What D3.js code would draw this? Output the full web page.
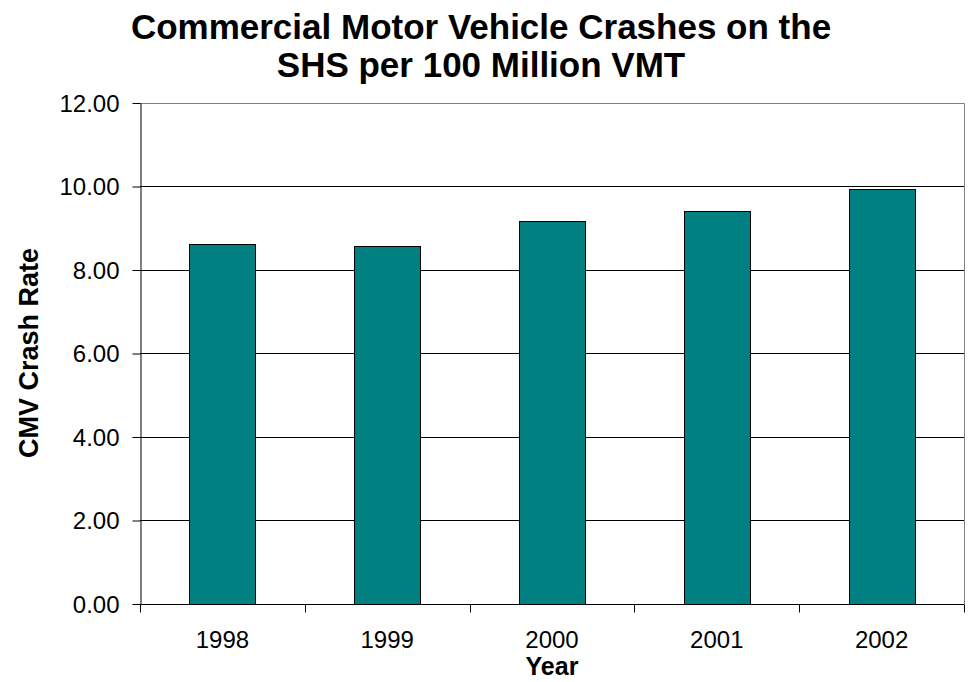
<!DOCTYPE html>
<html>
<head>
<meta charset="utf-8">
<script src="https://cdn.jsdelivr.net/npm/d3@7"></script>
<style>
  body { margin: 0; background: #fff; }
  text { font-family: Arial, "Liberation Sans", sans-serif; }
</style>
</head>
<body>
<div id="chart"></div>
<script>
var years = ["1998", "1999", "2000", "2001", "2002"];
var rates = [8.62, 8.56, 9.15, 9.40, 9.92];
var yTicks = [0, 2, 4, 6, 8, 10, 12];

var width = 972, height = 682;
var plotLeft = 140, plotRight = 964, plotTop = 102.5, plotBottom = 603.5;

var svg = d3.select("#chart").append("svg")
    .attr("width", width)
    .attr("height", height);

var x = d3.scaleBand()
    .domain(years)
    .range([plotLeft, plotRight])
    .paddingInner(0.6)
    .paddingOuter(0.3);

var y = d3.scaleLinear()
    .domain([0, 12])
    .range([plotBottom, plotTop]);

function py(v) { return Math.round(y(v)) + 0.5; }

// gridlines
svg.append("g")
    .selectAll("line")
    .data(yTicks.slice(1, -1))
    .enter()
    .append("line")
    .attr("x1", plotLeft)
    .attr("x2", plotRight)
    .attr("y1", py)
    .attr("y2", py)
    .attr("stroke", "#000");

// plot area border (top and right, gray)
svg.append("path")
    .attr("d", "M" + plotLeft + "," + py(12) + "H" + (plotRight + 0.5) + "V" + py(0))
    .attr("fill", "none")
    .attr("stroke", "#808080");

// bars
svg.selectAll(".bar")
    .data(rates)
    .enter()
    .append("rect")
    .attr("class", "bar")
    .attr("x", function (d, i) { return Math.round(x(years[i])) + 0.5; })
    .attr("y", function (d) { return py(d); })
    .attr("width", Math.round(x.bandwidth()))
    .attr("height", function (d) { return py(0) - py(d); })
    .attr("fill", "#008080")
    .attr("stroke", "#000");

// y axis
var yAxis = d3.axisLeft(y)
    .tickValues(yTicks)
    .tickFormat(d3.format(".2f"))
    .tickSize(8)
    .tickSizeOuter(0)
    .tickPadding(13);

var gy = svg.append("g")
    .attr("transform", "translate(" + (plotLeft + 0.5) + ",0.5)")
    .call(yAxis);
gy.select(".domain").attr("stroke", "#000");
gy.selectAll(".tick line").attr("stroke", "#000");
gy.selectAll("text")
    .attr("dy", "0.35em")
    .style("font-size", "24px")
    .attr("fill", "#000");

// x axis with ticks between categories
var gx = svg.append("g")
    .attr("transform", "translate(0," + py(0) + ")");
gx.append("line")
    .attr("x1", plotLeft).attr("x2", plotRight)
    .attr("stroke", "#000");
var bounds = years.map(function (d) { return x(d) - x.step() * 0.3; }).concat([plotRight]);
gx.selectAll(".tk")
    .data(bounds)
    .enter()
    .append("line")
    .attr("class", "tk")
    .attr("x1", function (d) { return Math.round(d) + 0.5; })
    .attr("x2", function (d) { return Math.round(d) + 0.5; })
    .attr("y1", 0)
    .attr("y2", 8)
    .attr("stroke", "#000");
gx.selectAll(".lbl")
    .data(years)
    .enter()
    .append("text")
    .attr("class", "lbl")
    .attr("x", function (d) { return x(d) + x.bandwidth() / 2; })
    .attr("y", 43)
    .attr("text-anchor", "middle")
    .style("font-size", "24px")
    .text(function (d) { return d; });

// title
var title = svg.append("text")
    .attr("text-anchor", "middle")
    .style("font-size", "35px")
    .style("font-weight", "bold");
title.append("tspan").attr("x", 481).attr("y", 39).text("Commercial Motor Vehicle Crashes on the");
title.append("tspan").attr("x", 481).attr("y", 77).text("SHS per 100 Million VMT");

// axis titles
svg.append("text")
    .attr("x", (plotLeft + plotRight) / 2)
    .attr("y", 675)
    .attr("text-anchor", "middle")
    .style("font-size", "25px")
    .style("font-weight", "bold")
    .text("Year");

svg.append("text")
    .attr("transform", "translate(38," + ((plotTop + plotBottom) / 2) + ") rotate(-90)")
    .attr("text-anchor", "middle")
    .style("font-size", "27px")
    .style("font-weight", "bold")
    .text("CMV Crash Rate");
</script>
</body>
</html>
